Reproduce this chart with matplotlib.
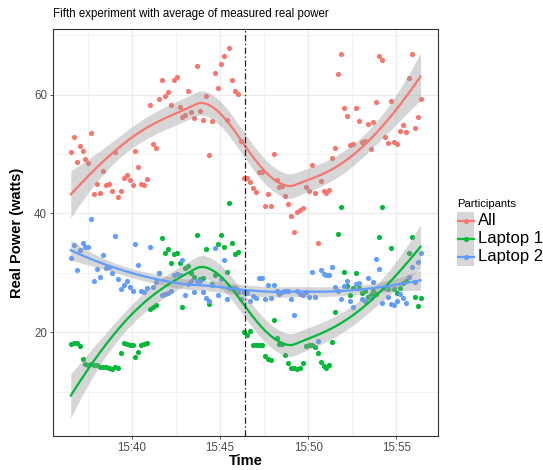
import numpy as np
import pandas as pd
import matplotlib
matplotlib.use("Agg")
import matplotlib.pyplot as plt
import matplotlib.dates as mdates
from matplotlib.lines import Line2D
from matplotlib.patches import Rectangle

plt.rcParams["font.family"] = ["Liberation Sans", "DejaVu Sans"]

# readings every 10 s
times = pd.date_range("2016-05-20 15:36:32", periods=120, freq="10s")
event_time = pd.Timestamp("2016-05-20 15:46:24")

participants = ["All", "Laptop 1", "Laptop 2"]
colors = ["#F8766D", "#00BA38", "#619CFF"]

power_all = [50.4, 52.8, 48.6, 51.4, 50.5, 49.1, 48.5, 53.5, 43.3, 44.9,
             43.5, 47.1, 44.8, 44.9, 43.7, 50.3, 42.8, 43.8, 46.0, 46.5,
             45.7, 44.8, 50.5, 47.8, 44.9, 44.8, 45.8, 58.3, 51.7, 51.0,
             59.2, 62.4, 59.7, 60.5, 58.3, 62.4, 62.9, 58.0, 56.3, 56.5,
             60.6, 57.1, 56.0, 64.9, 57.3, 55.7, 59.8, 49.9, 55.6, 63.7,
             61.2, 65.1, 66.5, 55.7, 67.9, 62.5, 60.6, 60.1, 52.2, 46.0,
             46.0, 45.3, 44.3, 43.6, 46.9, 47.0, 41.3, 43.3, 41.3, 50.0,
             45.7, 44.4, 44.7, 43.0, 41.6, 39.5, 36.8, 40.3, 40.5, 40.9,
             44.5, 43.7, 48.1, 43.5, 35.1, 45.4, 43.8, 43.5, 43.9, 49.3,
             51.0, 63.5, 66.8, 57.8, 56.4, 51.5, 51.7, 57.8, 55.6, 52.0,
             52.2, 55.1, 50.9, 55.4, 58.8, 66.6, 65.9, 52.9, 51.8, 58.9,
             52.1, 51.7, 53.9, 54.9, 53.7, 62.8, 66.9, 54.4, 56.3, 59.2]

power_laptop1 = [18.0, 18.1, 18.1, 17.6, 15.4, 14.7, 14.5, 14.6, 14.4, 14.5,
                 14.2, 14.1, 14.1, 14.0, 13.8, 14.1, 14.0, 16.5, 18.1, 18.0,
                 17.9, 17.8, 15.8, 16.6, 17.9, 18.0, 18.1, 23.9, 24.2, 24.5,
                 30.0, 35.9, 33.3, 34.0, 31.7, 33.1, 33.3, 31.6, 24.2, 30.8,
                 31.1, 30.0, 29.3, 36.4, 28.9, 29.2, 34.0, 24.7, 28.1, 29.6,
                 34.9, 36.3, 34.4, 30.1, 41.8, 35.0, 33.2, 33.5, 25.5, 20.0,
                 19.5, 20.2, 17.9, 17.8, 17.8, 17.8, 15.9, 15.4, 15.3, 22.1,
                 19.0, 18.0, 18.0, 16.2, 14.8, 14.0, 14.0, 13.8, 14.0, 14.8,
                 17.7, 17.8, 17.9, 17.5, 16.5, 15.0, 14.3, 13.9, 14.4, 18.4,
                 23.4, 36.6, 41.1, 30.1, 27.8, 26.2, 27.5, 29.9, 27.5, 26.6,
                 27.0, 25.9, 26.2, 26.9, 26.4, 36.0, 41.0, 27.5, 27.3, 34.1,
                 27.3, 26.6, 27.4, 28.2, 28.7, 33.4, 36.0, 26.0, 24.4, 25.8]

power_laptop2 = [32.5, 34.6, 30.5, 33.8, 35.1, 34.3, 34.4, 39.0, 28.7, 30.7,
                 29.3, 33.0, 30.8, 30.9, 30.0, 36.2, 28.9, 27.2, 27.9, 28.6,
                 27.6, 27.0, 34.8, 31.3, 27.0, 26.8, 27.5, 34.3, 27.6, 28.4,
                 30.0, 26.2, 26.4, 26.6, 26.9, 29.7, 29.8, 29.7, 32.1, 26.2,
                 28.1, 28.6, 26.7, 28.6, 28.6, 26.7, 25.7, 25.2, 27.9, 34.2,
                 26.3, 28.9, 32.1, 25.6, 27.5, 27.5, 27.5, 26.7, 25.5, 26.8,
                 26.6, 25.2, 26.1, 25.7, 29.2, 29.1, 25.5, 27.9, 25.8, 27.9,
                 26.9, 26.4, 26.8, 26.9, 26.9, 25.6, 22.9, 26.9, 26.4, 26.2,
                 26.8, 25.9, 30.2, 25.9, 18.5, 30.4, 29.8, 29.7, 29.6, 30.9,
                 27.6, 27.0, 25.6, 27.8, 28.7, 25.2, 24.3, 28.1, 28.2, 25.5,
                 25.2, 29.2, 25.8, 28.4, 32.4, 30.6, 24.9, 27.4, 26.0, 24.8,
                 24.6, 25.2, 26.4, 25.7, 24.9, 29.3, 30.9, 28.4, 31.9, 33.3]

series = [power_all, power_laptop1, power_laptop2]


def loess_rows(x, x0s, span=0.75):
    # local quadratic fit with tricube weights, one row of weights per x0
    n = len(x)
    q = int(np.floor(n * span))
    rows = []
    for x0 in x0s:
        d = np.abs(x - x0)
        h = np.sort(d)[q - 1]
        w = np.where(d < h, (1 - (d / h) ** 3) ** 3, 0.0)
        X = np.column_stack([np.ones(n), x - x0, (x - x0) ** 2])
        A = X.T @ (w[:, None] * X)
        rows.append(np.linalg.solve(A, (X * w[:, None]).T)[0])
    return np.array(rows)


def loess(x, y, xs):
    L = loess_rows(x, x)
    res = y - L @ y
    M = np.eye(len(x)) - L
    sigma = np.sqrt(res @ res / np.trace(M.T @ M))
    Ls = loess_rows(x, xs)
    fit = Ls @ y
    se = sigma * np.sqrt((Ls ** 2).sum(axis=1))
    return fit, se


xd = mdates.date2num(times)
xm = (xd - xd[0]) * 1440.0
xs_m = np.linspace(xm.min(), xm.max(), 80)
xs_d = xd[0] + xs_m / 1440.0

fig = plt.figure(figsize=(5.43, 4.70), dpi=100)
ax = fig.add_axes([53.3 / 543, 1 - 436 / 470, (438 - 53.3) / 543, (436 - 29.3) / 470])

for vals, c in zip(series, colors):
    ax.scatter(times, vals, s=14, color=c, linewidths=0, zorder=2)

lo, hi = np.inf, -np.inf
for vals, c in zip(series, colors):
    y = np.array(vals)
    fit, se = loess(xm, y, xs_m)
    band_lo, band_hi = fit - 1.98 * se, fit + 1.98 * se
    ax.fill_between(xs_d, band_lo, band_hi, color="#999999", alpha=0.4, linewidth=0, zorder=3)
    ax.plot(xs_d, fit, color=c, lw=1.6, zorder=4)
    lo = min(lo, band_lo.min(), y.min())
    hi = max(hi, band_hi.max(), y.max())

ax.axvline(event_time, color="#222222", lw=0.9, ls=(0, (5, 2, 1.2, 2)), zorder=5)

# ggplot-like 5% expansion
pad = 0.05 * (hi - lo)
ax.set_ylim(lo - pad, hi + pad)
xpad = 0.05 * (xd[-1] - xd[0])
ax.set_xlim(xd[0] - xpad, xd[-1] + xpad)

ax.set_yticks([20, 40, 60])
ax.set_yticks([10, 30, 50, 70], minor=True)
ax.xaxis.set_major_locator(mdates.MinuteLocator(byminute=[40, 45, 50, 55]))
ax.xaxis.set_major_formatter(mdates.DateFormatter("%H:%M"))
ax.set_xticks(mdates.date2num(pd.to_datetime(["2016-05-20 15:37:30", "2016-05-20 15:42:30",
                                              "2016-05-20 15:47:30", "2016-05-20 15:52:30"])),
              minor=True)

ax.grid(which="major", color="#EBEBEB", lw=0.9, zorder=0)
ax.grid(which="minor", color="#EBEBEB", lw=0.45, zorder=0)
ax.set_axisbelow(True)
ax.tick_params(which="major", length=2.5, width=0.6, color="#333333", labelsize=8.3,
               labelcolor="#4D4D4D", pad=2)
ax.tick_params(which="minor", length=0)
for s in ax.spines.values():
    s.set_color("#333333")
    s.set_linewidth(0.8)

fig.text(53.3 / 543, 1 - 17 / 470, "Fifth experiment with average of measured real power",
         fontsize=8.3, va="baseline", ha="left")
fig.text(245.7 / 543, 1 - 461 / 470, "Time", fontsize=10.5, fontweight="bold",
         ha="center", va="center")
fig.text(17 / 543, 1 - 232.7 / 470, "Real Power (watts)", fontsize=10.5, fontweight="bold",
         ha="center", va="center", rotation=90)

# legend drawn in pixel coordinates
lax = fig.add_axes([0, 0, 1, 1])
lax.set_xlim(0, 543)
lax.set_ylim(470, 0)
lax.axis("off")
lax.text(456.7, 204, "Participants", fontsize=8.1, va="center", ha="left")
row_h = 18.1
for i, (name, c) in enumerate(zip(participants, colors)):
    top = 211.7 + i * row_h
    mid = top + row_h / 2
    lax.add_patch(Rectangle((456.7, top), 17.6, row_h, facecolor="#D6D6D6", edgecolor="none"))
    lax.add_line(Line2D([457.5, 473.5], [mid, mid], color=c, lw=1.6))
    lax.add_line(Line2D([465.5], [mid], color=c, marker="o", ms=3.7, mew=0))
    lax.text(477.5, mid, name, fontsize=12, va="center", ha="left")

fig.savefig("out.png", dpi=100)
